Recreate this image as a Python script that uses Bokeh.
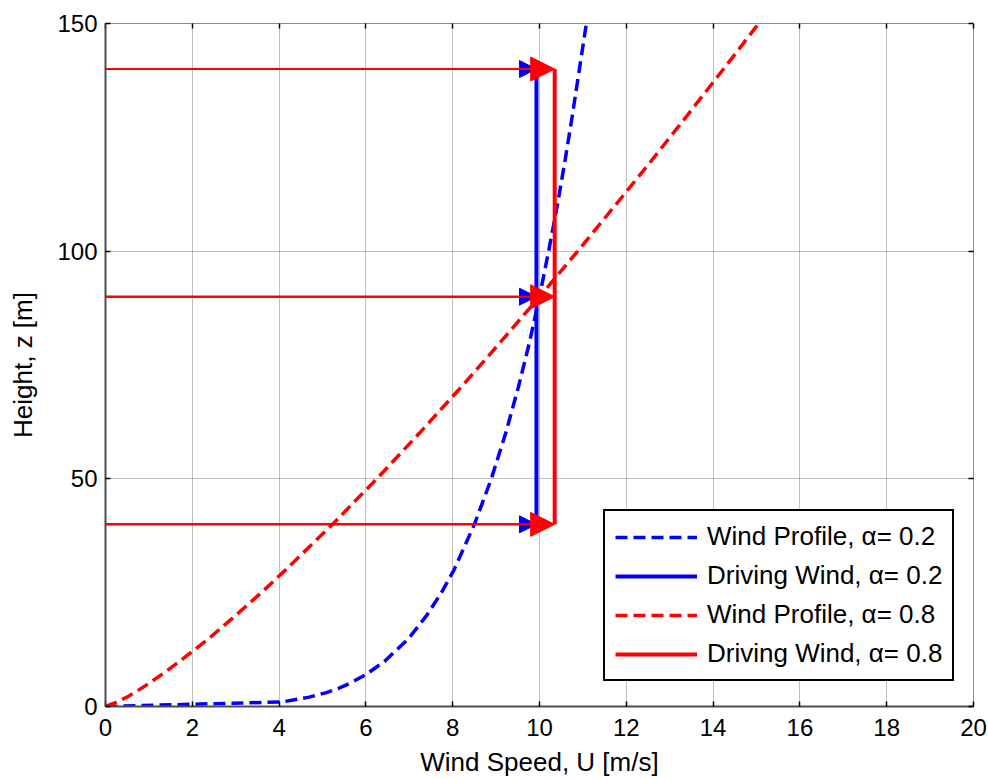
from bokeh.plotting import figure
from bokeh.models import (Range1d, LinearAxis, Legend, LegendItem, Arrow, NormalHead,
                          ColumnDataSource, FixedTicker)
from bokeh.embed import file_html
from bokeh.resources import INLINE

# ---- data ----
z_profile = [0, 1, 2, 3, 4, 5, 7, 10, 15, 20, 25, 30, 40, 50, 60, 70, 80, 90,
             100, 110, 120, 130, 140, 150]
u_profile_02 = [0, 4.07, 4.67, 5.07, 5.37, 5.61, 6.00, 6.44, 6.99, 7.40, 7.74, 8.03,
                8.50, 8.89, 9.22, 9.51, 9.77, 10.00, 10.21, 10.41, 10.59, 10.76,
                10.92, 11.08]
u_profile_08 = [0, 0.27, 0.48, 0.66, 0.83, 0.99, 1.29, 1.72, 2.39, 3.00, 3.59, 4.15,
                5.23, 6.25, 7.23, 8.18, 9.10, 10.00, 10.88, 11.74, 12.59, 13.42,
                14.24, 15.05]
z_drive = [40, 90, 140]
u_drive_02 = [9.93, 9.93, 9.93]
u_drive_08 = [10.35, 10.35, 10.35]
arrow_start = [0, 0, 0]

x_ticks = [0, 2, 4, 6, 8, 10, 12, 14, 16, 18, 20]
y_ticks = [0, 50, 100, 150]

FONT = "Liberation Sans"
BLUE = "#0000ff"
RED = "#ff0000"

p = figure(width=988, height=779, output_backend="svg", toolbar_location=None,
           x_range=Range1d(0, 20), y_range=Range1d(0, 150),
           min_border_left=105, min_border_right=15, min_border_top=23,
           min_border_bottom=71)
p.outline_line_color = "#8c8c8c"
p.outline_line_width = 1

# axes
for ax, ticks in ((p.xaxis[0], x_ticks), (p.yaxis[0], y_ticks)):
    ax.ticker = FixedTicker(ticks=ticks)
    ax.axis_line_color = "#4d4d4d"
    ax.axis_line_width = 2
    ax.major_tick_in = 5
    ax.major_tick_out = 0
    ax.major_tick_line_color = "black"
    ax.major_tick_line_width = 1.5
    ax.minor_tick_line_color = None
    ax.major_label_text_font = FONT
    ax.major_label_text_font_size = "24px"
    ax.major_label_text_color = "black"
    ax.axis_label_text_font = FONT
    ax.axis_label_text_font_size = "26px"
    ax.axis_label_text_font_style = "normal"
    ax.axis_label_text_color = "black"

p.xaxis.axis_label = "Wind Speed, U [m/s]"
p.yaxis.axis_label = "Height, z [m]"
p.xaxis.major_label_standoff = 12
p.yaxis.major_label_standoff = 8
p.xaxis.axis_label_standoff = 8
p.yaxis.axis_label_standoff = 16

# top / right tick-only axes
top = LinearAxis(ticker=FixedTicker(ticks=x_ticks))
right = LinearAxis(ticker=FixedTicker(ticks=y_ticks))
for ax in (top, right):
    ax.axis_line_color = None
    ax.major_tick_in = 5
    ax.major_tick_out = 0
    ax.major_tick_line_color = "black"
    ax.major_tick_line_width = 1.5
    ax.minor_tick_line_color = None
    ax.major_label_text_font_size = "1px"
    ax.major_label_text_alpha = 0
    ax.major_label_standoff = 0
p.add_layout(top, "above")
p.add_layout(right, "right")

# grid
p.xgrid.ticker = FixedTicker(ticks=x_ticks)
p.ygrid.ticker = FixedTicker(ticks=y_ticks)
for g in (p.xgrid, p.ygrid):
    g.grid_line_color = "#808080"
    g.grid_line_dash = "1 1"
    g.grid_line_width = 1

# arrows (blue first, red on top)
src_b = ColumnDataSource(dict(x0=arrow_start, x1=u_drive_02, y=z_drive))
src_r = ColumnDataSource(dict(x0=arrow_start, x1=u_drive_08, y=z_drive))
p.add_layout(Arrow(source=src_b, x_start="x0", y_start="y", x_end="x1", y_end="y",
                   line_color=BLUE, line_width=2,
                   end=NormalHead(size=17, fill_color=BLUE, line_color=BLUE, line_width=1)))
p.add_layout(Arrow(source=src_r, x_start="x0", y_start="y", x_end="x1", y_end="y",
                   line_color=RED, line_width=2,
                   end=NormalHead(size=24, fill_color=RED, line_color=RED, line_width=1)))

# lines
r1 = p.line(u_profile_02, z_profile, line_color=BLUE, line_width=3.5, line_dash="12 6")
r2 = p.line(u_drive_02, z_drive, line_color=BLUE, line_width=4)
r3 = p.line(u_profile_08, z_profile, line_color=RED, line_width=3.5, line_dash="12 6")
r4 = p.line(u_drive_08, z_drive, line_color=RED, line_width=4)

legend = Legend(items=[
    LegendItem(label="Wind Profile, \u03b1= 0.2", renderers=[r1]),
    LegendItem(label="Driving Wind, \u03b1= 0.2", renderers=[r2]),
    LegendItem(label="Wind Profile, \u03b1= 0.8", renderers=[r3]),
    LegendItem(label="Driving Wind, \u03b1= 0.8", renderers=[r4]),
], location=(498, 25))
legend.label_text_font = FONT
legend.label_text_font_size = "26px"
legend.label_text_color = "black"
legend.glyph_width = 82
legend.glyph_height = 30
legend.label_height = 30
legend.label_standoff = 10
legend.spacing = 8
legend.padding = 10
legend.margin = 0
legend.border_line_color = "black"
legend.border_line_alpha = 1
legend.border_line_width = 2
legend.background_fill_color = "white"
legend.background_fill_alpha = 1
p.add_layout(legend, "center")

open("out.html", "w").write(file_html(p, INLINE))
